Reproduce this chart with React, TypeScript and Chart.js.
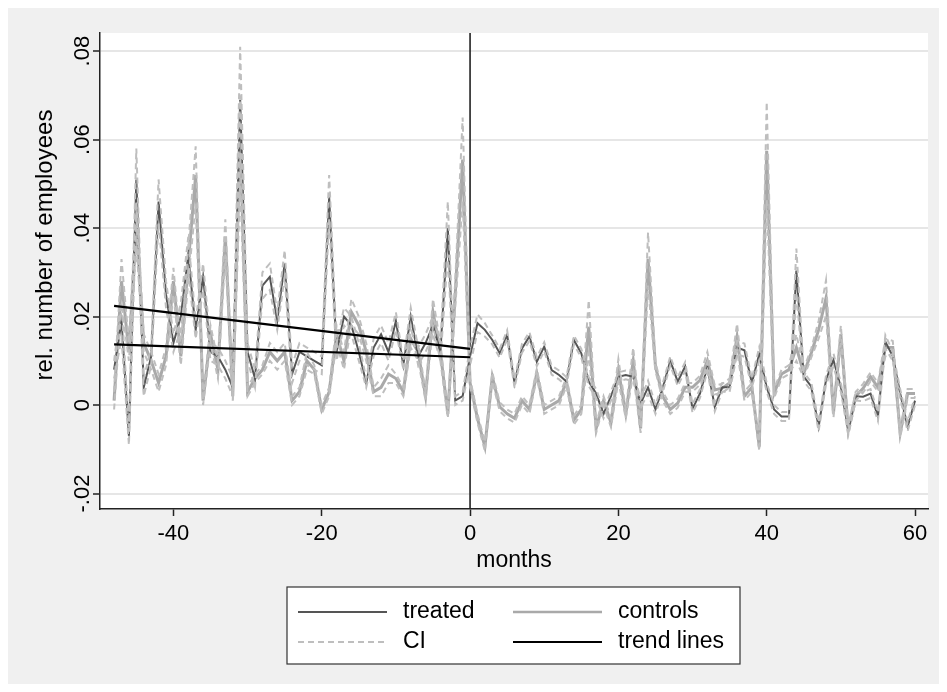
import React, { useEffect, useRef } from "react";
import { Chart, registerables } from "chart.js";

Chart.register(...registerables);

// ---------- data ----------
const months: number[] = [];
for (let m = -48; m <= 60; m++) months.push(m);

const treated = [
  0.008, 0.019, -0.007, 0.051, 0.004, 0.011, 0.046, 0.025, 0.014, 0.020,
  0.034, 0.017, 0.029, 0.012, 0.011, 0.008, 0.004, 0.069, 0.012, 0.006,
  0.027, 0.029, 0.019, 0.032, 0.007, 0.012, 0.011, 0.010, 0.009, 0.047,
  0.012, 0.020, 0.018, 0.012, 0.005, 0.013, 0.016, 0.012, 0.019, 0.009,
  0.020, 0.011, 0.014, 0.018, 0.012, 0.040, 0.001, 0.002, 0.011, 0.0185,
  0.017, 0.0147, 0.0117, 0.0159, 0.0049, 0.0128, 0.0155, 0.0098, 0.0132, 0.0079,
  0.0068, 0.0053, 0.0147, 0.0117, 0.0053, 0.0026, -0.002, 0.002, 0.0064, 0.0068,
  0.0064, 0.0004, 0.004, -0.001, 0.004, 0.010, 0.0053, 0.0087, -0.0008, 0.0026,
  0.0086, -0.0004, 0.004, 0.004, 0.013, 0.0124, 0.005, 0.0116, 0.004, -0.001,
  -0.0026, -0.0026, 0.0304, 0.0064, 0.0042, -0.0049, 0.0057, 0.0102, 0.004, -0.0057,
  0.002, 0.0019, 0.0026, -0.0026, 0.0143, 0.011, 0.0026, -0.0049, 0.001,
];

const controls = [
  0.001, 0.028, 0.012, 0.041, 0.014, 0.010, 0.005, 0.011, 0.028, 0.011,
  0.032, 0.052, 0.001, 0.016, 0.008, 0.038, 0.002, 0.060, 0.003, 0.006,
  0.008, 0.012, 0.010, 0.012, 0.001, 0.003, 0.010, 0.008, -0.001, 0.003,
  0.016, 0.010, 0.021, 0.018, 0.012, 0.003, 0.004, 0.007, 0.006, 0.003,
  0.015, 0.012, 0.002, 0.021, 0.012, -0.002, 0.025, 0.0555, 0.005, -0.003,
  -0.0094, 0.0064, -0.0004, -0.002, -0.003, 0.001, -0.001, 0.0072, -0.001, 0.0,
  0.001, 0.0053, -0.0034, -0.001, 0.0177, -0.0053, 0.001, -0.004, 0.0079, -0.002,
  0.010, -0.0053, 0.033, 0.0087, 0.0019, -0.001, 0.0004, 0.004, 0.004, 0.0056,
  0.010, 0.0034, 0.0038, 0.005, 0.0154, 0.002, 0.004, -0.0094, 0.0575, 0.0026,
  0.007, 0.008, 0.013, 0.0072, 0.0117, 0.017, 0.0242, -0.0019, 0.016, -0.0057,
  0.002, 0.0038, 0.0064, 0.004, 0.013, 0.013, -0.0064, 0.0026, 0.0026,
];

// half-widths of the confidence bands
const treatedCI = [
  0.002, 0.004, 0.002, 0.007, 0.002, 0.002, 0.005, 0.003, 0.002, 0.003,
  0.004, 0.002, 0.003, 0.002, 0.002, 0.002, 0.002, 0.012, 0.002, 0.002,
  0.003, 0.003, 0.002, 0.003, 0.002, 0.002, 0.002, 0.002, 0.002, 0.005,
  0.002, 0.002, 0.002, 0.002, 0.001, 0.002, 0.002, 0.002, 0.002, 0.001,
  0.002, 0.002, 0.002, 0.002, 0.002, 0.006, 0.001, 0.001, 0.002, 0.002,
  0.0015, 0.001, 0.001, 0.001, 0.001, 0.001, 0.001, 0.001, 0.001, 0.001,
  0.001, 0.001, 0.001, 0.001, 0.001, 0.001, 0.001, 0.001, 0.001, 0.001,
  0.001, 0.001, 0.0015, 0.001, 0.001, 0.001, 0.001, 0.001, 0.001, 0.001,
  0.001, 0.001, 0.001, 0.001, 0.0015, 0.0015, 0.001, 0.0015, 0.001, 0.001,
  0.001, 0.001, 0.005, 0.001, 0.001, 0.001, 0.001, 0.0015, 0.001, 0.001,
  0.001, 0.001, 0.001, 0.001, 0.0015, 0.001, 0.001, 0.001, 0.001,
];

const controlsCI = [
  0.002, 0.005, 0.002, 0.005, 0.002, 0.002, 0.002, 0.002, 0.003, 0.002,
  0.004, 0.0065, 0.001, 0.002, 0.002, 0.004, 0.001, 0.010, 0.001, 0.001,
  0.001, 0.002, 0.002, 0.002, 0.001, 0.001, 0.002, 0.001, 0.001, 0.001,
  0.002, 0.002, 0.003, 0.002, 0.002, 0.001, 0.002, 0.002, 0.001, 0.001,
  0.002, 0.002, 0.001, 0.003, 0.002, 0.001, 0.003, 0.0095, 0.001, 0.001,
  0.001, 0.001, 0.001, 0.001, 0.001, 0.001, 0.001, 0.001, 0.001, 0.001,
  0.001, 0.001, 0.001, 0.001, 0.006, 0.001, 0.001, 0.001, 0.0025, 0.001,
  0.003, 0.001, 0.006, 0.001, 0.001, 0.001, 0.001, 0.001, 0.001, 0.001,
  0.002, 0.001, 0.001, 0.001, 0.003, 0.001, 0.001, 0.001, 0.011, 0.001,
  0.001, 0.001, 0.003, 0.001, 0.001, 0.002, 0.004, 0.001, 0.002, 0.001,
  0.001, 0.001, 0.001, 0.001, 0.002, 0.0015, 0.001, 0.001, 0.001,
];

const trendX = [-48, 0];
const trendTreated = [0.0224, 0.0127];
const trendControls = [0.0137, 0.0108];

const xTicks = [-40, -20, 0, 20, 40, 60];
const yTicks = [-0.02, 0, 0.02, 0.04, 0.06, 0.08];
const yTickLabels = ["-.02", "0", ".02", ".04", ".06", ".08"];
const xTitle = "months";
const yTitle = "rel. number of employees";
const legendLabels = ["treated", "controls", "CI", "trend lines"];

// ---------- styles ----------
const FONT = '"Liberation Sans", Arial, sans-serif';
const C_TREATED = "#555555";
const C_CONTROLS = "#a9a9a9";
const C_CI = "#bebebe";
const C_TREND = "#000000";
const C_AXIS = "#222222";

const pts = (ys: number[]) => months.map((m, i) => ({ x: m, y: ys[i] }));
const ptsOff = (ys: number[], hw: number[], s: number) =>
  months.map((m, i) => ({ x: m, y: ys[i] + s * hw[i] }));

const stataPlugin = {
  id: "stata",
  beforeDraw(chart: any) {
    const { ctx, chartArea: ca, width, height } = chart;
    ctx.save();
    ctx.fillStyle = "#f0f0f0";
    ctx.fillRect(0, 0, width, height);
    ctx.fillStyle = "#ffffff";
    ctx.fillRect(ca.left, ca.top, ca.right - ca.left, ca.bottom - ca.top);
    ctx.restore();
  },
  beforeDatasetsDraw(chart: any) {
    const { ctx, chartArea: ca } = chart;
    const x0 = chart.scales.x.getPixelForValue(0);
    ctx.save();
    ctx.strokeStyle = C_AXIS;
    ctx.lineWidth = 1.6;
    ctx.beginPath();
    ctx.moveTo(x0, ca.top);
    ctx.lineTo(x0, ca.bottom);
    ctx.stroke();
    ctx.restore();
  },
  afterDraw(chart: any) {
    const { ctx, chartArea: ca } = chart;
    const ys = chart.scales.y;
    ctx.save();
    ctx.fillStyle = "#000";
    // y tick labels (rotated)
    ctx.font = `22px ${FONT}`;
    ctx.textAlign = "center";
    ctx.textBaseline = "middle";
    yTicks.forEach((v, i) => {
      const py = ys.getPixelForValue(v);
      ctx.save();
      ctx.translate(75, py);
      ctx.rotate(-Math.PI / 2);
      ctx.fillText(yTickLabels[i], 0, 0);
      ctx.restore();
    });
    // y title
    ctx.font = `24px ${FONT}`;
    ctx.save();
    ctx.translate(37, 237);
    ctx.rotate(-Math.PI / 2);
    ctx.fillText(yTitle, 0, 0);
    ctx.restore();
    // x title
    ctx.font = `23px ${FONT}`;
    ctx.fillText(xTitle, (ca.left + ca.right) / 2, 553);

    // legend
    const bx = 279, by = 579, bw = 453, bh = 77;
    ctx.fillStyle = "#ffffff";
    ctx.fillRect(bx, by, bw, bh);
    ctx.strokeStyle = "#333";
    ctx.lineWidth = 1.2;
    ctx.strokeRect(bx, by, bw, bh);
    const rows = [604, 634];
    const cols = [290, 505];
    const items = [
      { c: C_TREATED, w: 2, d: [] as number[] },
      { c: C_CONTROLS, w: 2.5, d: [] as number[] },
      { c: C_CI, w: 2, d: [6, 4] },
      { c: C_TREND, w: 2, d: [] as number[] },
    ];
    items.forEach((it, i) => {
      const col = cols[i % 2];
      const row = rows[Math.floor(i / 2)];
      ctx.strokeStyle = it.c;
      ctx.lineWidth = it.w;
      ctx.setLineDash(it.d);
      ctx.beginPath();
      ctx.moveTo(col, row);
      ctx.lineTo(col + 89, row);
      ctx.stroke();
      ctx.setLineDash([]);
      ctx.fillStyle = "#000";
      ctx.font = `23px ${FONT}`;
      ctx.textAlign = "left";
      ctx.textBaseline = "middle";
      ctx.fillText(legendLabels[i], col + 105, row);
    });
    ctx.restore();
  },
};

export default function App() {
  const ref = useRef<HTMLCanvasElement | null>(null);
  useEffect(() => {
    if (!ref.current) return;
    const lineDs = (label: string, data: any[], color: string, width: number, order: number, dash: number[] = []) => ({
      label,
      data,
      borderColor: color,
      backgroundColor: color,
      borderWidth: width,
      borderDash: dash,
      pointRadius: 0,
      tension: 0,
      fill: false,
      order,
    });
    const chart = new Chart(ref.current, {
      type: "line",
      data: {
        datasets: [
          lineDs("controls", pts(controls), C_CONTROLS, 3, 5),
          lineDs("treated", pts(treated), C_TREATED, 2, 4),
          lineDs("CI controls hi", ptsOff(controls, controlsCI, 1), C_CI, 2, 3, [6, 4]),
          lineDs("CI controls lo", ptsOff(controls, controlsCI, -1), C_CI, 2, 3, [6, 4]),
          lineDs("CI treated hi", ptsOff(treated, treatedCI, 1), C_CI, 2, 3, [6, 4]),
          lineDs("CI treated lo", ptsOff(treated, treatedCI, -1), C_CI, 2, 3, [6, 4]),
          lineDs("trend treated", trendX.map((x, i) => ({ x, y: trendTreated[i] })), C_TREND, 2.2, 1),
          lineDs("trend controls", trendX.map((x, i) => ({ x, y: trendControls[i] })), C_TREND, 2.2, 1),
        ],
      },
      options: {
        animation: false,
        responsive: false,
        devicePixelRatio: 1,
        layout: { padding: { top: 25, right: 11, left: 0, bottom: 0 } },
        plugins: { legend: { display: false }, tooltip: { enabled: false } },
        scales: {
          x: {
            type: "linear",
            min: -49.9,
            max: 61.75,
            afterBuildTicks: (s: any) => {
              s.ticks = xTicks.map((v) => ({ value: v }));
            },
            afterFit: (s: any) => {
              s.height = 175;
            },
            grid: { drawOnChartArea: false, drawTicks: true, tickLength: 7, tickColor: C_AXIS, tickWidth: 1.5 },
            border: { display: true, color: C_AXIS, width: 1.5 },
            ticks: {
              autoSkip: false,
              maxRotation: 0,
              minRotation: 0,
              padding: 5,
              color: "#000",
              font: { family: FONT, size: 22 },
              callback: (v: any) => String(v),
            },
          },
          y: {
            type: "linear",
            min: -0.0235,
            max: 0.0841,
            afterBuildTicks: (s: any) => {
              s.ticks = yTicks.map((v) => ({ value: v }));
            },
            afterFit: (s: any) => {
              s.width = 92;
            },
            grid: { color: "#e6e6e6", lineWidth: 2, drawTicks: true, tickLength: 7, tickColor: C_AXIS, tickWidth: 1.5 },
            border: { display: true, color: C_AXIS, width: 1.5 },
            ticks: { display: false },
          },
        },
      },
      plugins: [stataPlugin],
    } as any);
    return () => chart.destroy();
  }, []);
  return (
    <div style={{ width: 931, height: 676 }}>
      <canvas ref={ref} width={931} height={676} style={{ display: "block" }} />
    </div>
  );
}
